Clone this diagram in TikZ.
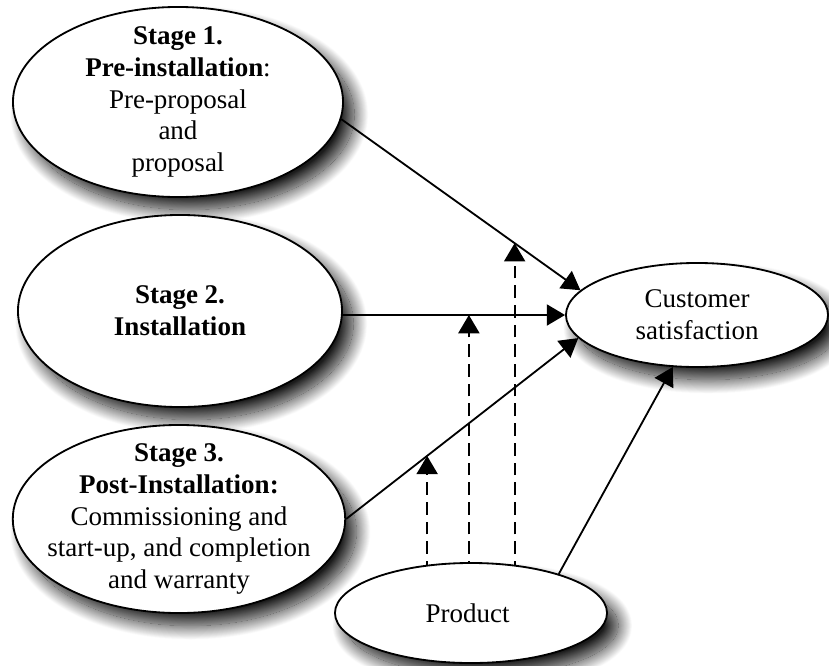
\documentclass[tikz,border=0pt]{standalone}
\usepackage{fontspec}
\setmainfont{Liberation Serif}
\usetikzlibrary{arrows.meta, shapes.geometric, shadows.blur, backgrounds}

\begin{document}
\begin{tikzpicture}[
    x=0.025cm, y=-0.025cm,
    >={Triangle[length=13pt, width=15pt]},
    oval/.style={
        ellipse,
        draw=black,
        line width=1.3pt,
        fill=white,
        inner sep=-10pt,
        align=center,
        font=\fontsize{19.2}{22.6}\selectfont,
        blur shadow={shadow xshift=8pt, shadow yshift=-9pt,
            shadow blur radius=10pt, shadow blur steps=30,
            shadow opacity=90},
    },
    link/.style={
        ->,
        line width=1.3pt,
    },
    effect/.style={
        ->,
        line width=1.3pt,
        dash pattern=on 9pt off 5pt,
    },
]
\useasboundingbox (0,0) rectangle (829,665);

% --- Stages on the left, placed by coordinates ---
\node[oval, minimum width=8.25cm, minimum height=4.75cm] (stage1) at (178,102) {
    \textbf{Stage 1.}\\
    \textbf{Pre-installation}:\\
    Pre-proposal\\
    and\\
    proposal
};
\node[oval, minimum width=8.1cm, minimum height=4.8cm] (stage2) at (180,311) {
    \textbf{Stage 2.}\\
    \textbf{Installation}
};
\node[oval, minimum width=8.3cm, minimum height=4.7cm] (stage3) at (179,519) {
    \textbf{Stage 3.}\\
    \textbf{Post-Installation:}\\
    Commissioning and\\
    start-up, and completion\\
    and warranty
};

% --- Outcome and moderator ---
\node[oval, minimum width=6.55cm, minimum height=2.6cm] (satis) at (697,315) {
    Customer\\
    satisfaction
};
\node[oval, minimum width=6.8cm, minimum height=2.5cm] (product) at (471,613) {
    Product
};

% --- Direct effects ---
\draw[link] (stage1.-6) -- coordinate[pos=0.725] (mod1) (satis.168);
\draw[link] (stage2.east |- satis.west) -- coordinate[pos=0.567] (mod2) (satis.west);
\draw[link] (stage3.east) -- coordinate[pos=0.349] (mod3) (satis.191);
\draw[link] (product.24) -- (satis.245);

% --- Moderating effects of the product (dashed) ---
\begin{scope}[on background layer]
\draw[effect] (mod3 |- product.center) -- (mod3);
\draw[effect] (mod2 |- product.center) -- (mod2);
\draw[effect] (mod1 |- product.center) -- (mod1);
\end{scope}

\end{tikzpicture}
\end{document}
